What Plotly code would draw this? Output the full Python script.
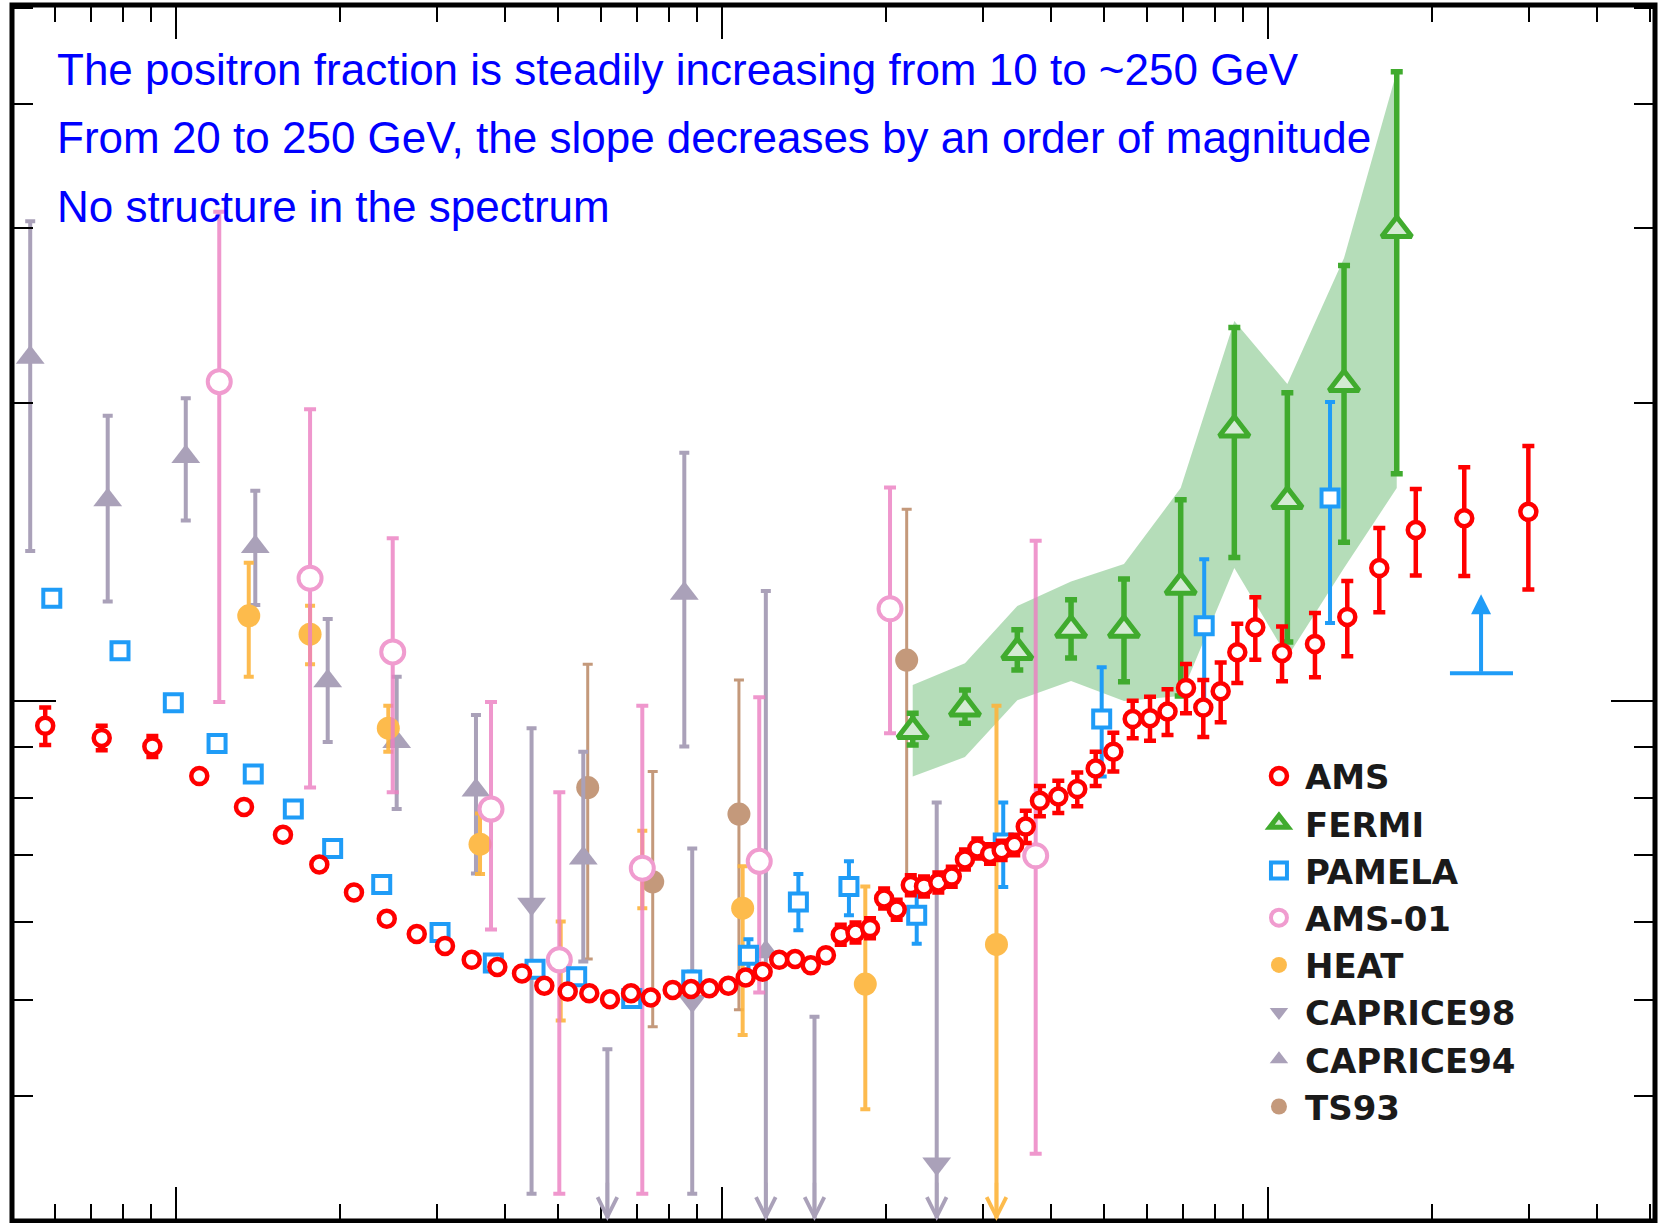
import numpy as np
import plotly.graph_objects as go

# ---------------- data: energy (GeV) and positron fraction ----------------
ams_E = [0.576, 0.731, 0.905, 1.103, 1.332, 1.570, 1.830, 2.118, 2.432, 2.760,
         3.109, 3.480, 3.877, 4.302, 4.727, 5.217, 5.714, 6.235, 6.813, 7.405,
         8.122, 8.775, 9.479, 10.27, 11.05, 11.87, 12.73, 13.61, 14.54, 15.50,
         16.50, 17.56, 18.67, 19.81, 20.89, 22.17, 23.44, 24.90, 26.35, 27.86,
         29.35, 30.96, 32.52, 34.30, 36.00, 38.22, 41.30, 44.74, 48.35, 52.09,
         56.52, 60.80, 65.46, 70.76, 76.12, 81.91, 87.86, 94.79, 106.1, 121.9,
         139.7, 159.9, 186.5, 228.8, 299.8]
ams_f = [0.0945, 0.0919, 0.0901, 0.0841, 0.0783, 0.0734, 0.0685, 0.0642, 0.0604, 0.0583,
         0.0567, 0.0549, 0.0540, 0.0532, 0.0517, 0.0510, 0.0508, 0.0501, 0.0508, 0.0503,
         0.0512, 0.0513, 0.0514, 0.0517, 0.0527, 0.0534, 0.0549, 0.0550, 0.0542, 0.0555,
         0.0582, 0.0585, 0.0591, 0.0633, 0.0617, 0.0653, 0.0651, 0.0657, 0.0666, 0.0693,
         0.0711, 0.0702, 0.0708, 0.0717, 0.0748, 0.0794, 0.0802, 0.0816, 0.0856, 0.0890,
         0.0960, 0.0962, 0.0977, 0.1032, 0.0986, 0.1024, 0.1121, 0.1188, 0.1119, 0.1143,
         0.1217, 0.1363, 0.1489, 0.1530, 0.1553]
ams_err = [0.0041, 0.0026, 0.0022, 0.0006, 0.0006, 0.0006, 0.0006, 0.0006, 0.0006, 0.0006,
           0.0005, 0.0005, 0.0005, 0.0005, 0.0005, 0.0005, 0.0005, 0.0005, 0.0005, 0.0005,
           0.0005, 0.0005, 0.0005, 0.0005, 0.0005, 0.0005, 0.0005, 0.0005, 0.0005, 0.0005,
           0.00135, 0.00136, 0.00137, 0.00147, 0.00143, 0.00152, 0.00151, 0.00152, 0.00155, 0.00161,
           0.00165, 0.0016, 0.0016, 0.0017, 0.0028, 0.0028, 0.0030, 0.0032, 0.0034, 0.0040,
           0.0042, 0.0049, 0.0052, 0.0059, 0.0065, 0.0071, 0.0077, 0.0086, 0.0071, 0.0085,
           0.0106, 0.0133, 0.0149, 0.0192, 0.0256]

fermi_E = [22.35, 27.86, 34.74, 43.58, 54.48, 69.20, 86.76, 108.5, 137.8, 172.1]
fermi_f = [0.0934, 0.0984, 0.1122, 0.1181, 0.1181, 0.1305, 0.1880, 0.1593, 0.2090, 0.2987]
fermi_hi = [0.0973, 0.1027, 0.1181, 0.1266, 0.1329, 0.1597, 0.2382, 0.2048, 0.2751, 0.4313]
fermi_lo = [0.0904, 0.0951, 0.1076, 0.1106, 0.1047, 0.1013, 0.1397, 0.1148, 0.1447, 0.1697]
fermi_band_hi = [0.1039, 0.1093, 0.1248, 0.1321, 0.1376, 0.1641, 0.2418, 0.2090, 0.2799, 0.4313]
fermi_band_lo = [0.0840, 0.0879, 0.1003, 0.1049, 0.1001, 0.1013, 0.1363, 0.1109, 0.1363, 0.1641]

pamela_E = [0.5922, 0.7896, 0.9887, 1.189, 1.385, 1.640, 1.936, 2.381, 3.045, 3.812,
            4.545, 5.418, 6.833, 8.801, 11.18, 13.80, 17.08, 22.73, 32.74, 49.59,
            76.41, 129.9]
pamela_f = [0.1271, 0.1125, 0.0997, 0.0907, 0.0845, 0.0779, 0.0711, 0.0654, 0.0585, 0.0545,
            0.0537, 0.0528, 0.0502, 0.0524, 0.0555, 0.0628, 0.0651, 0.0609, 0.0720, 0.0960,
            0.1192, 0.1604]
pamela_err_up = [0, 0, 0, 0, 0, 0, 0, 0, 0, 0,
                 0, 0, 0, 0.0010, 0.0021, 0.0042, 0.0039, 0.0032, 0.0071, 0.0123,
                 0.0199, 0.0400]
pamela_err_dn = [0, 0, 0, 0, 0, 0, 0, 0, 0, 0,
                 0, 0, 0, 0.0010, 0.0021, 0.0040, 0.0042, 0.0039, 0.0070, 0.0120,
                 0.0205, 0.0404]
pamela_limit_E = 245.6
pamela_limit_E_range = [215.4, 281.0]
pamela_limit_f = 0.1068
pamela_limit_arrow_to = 0.1283

ams01_E = [1.200, 1.760, 2.494, 3.775, 5.035, 7.145, 11.70, 20.31, 37.54]
ams01_f = [0.2101, 0.1331, 0.1122, 0.0779, 0.0549, 0.0679, 0.0690, 0.1240, 0.0699]
ams01_hi = [0.3117, 0.1971, 0.1461, 0.0999, 0.0810, 0.0990, 0.1010, 0.1643, 0.1452]
ams01_lo = [0.0999, 0.0819, 0.0810, 0.0589, 0.0319, 0.0319, 0.0509, 0.0929, 0.0350]

heat_E = [1.359, 1.760, 2.448, 3.604, 5.065, 7.145, 10.91, 18.30, 31.82]
heat_f = [0.1220, 0.1169, 0.0940, 0.0718, 0.0547, 0.0680, 0.0619, 0.0519, 0.0569]
heat_hi = [0.1380, 0.1249, 0.0990, 0.0771, 0.0600, 0.0741, 0.0682, 0.0651, 0.0990]
heat_lo = [0.1059, 0.1090, 0.0890, 0.0670, 0.0477, 0.0619, 0.0461, 0.0388, None]

cap98_E = [4.479, 8.820, 24.73]
cap98_f = [0.0625, 0.0499, 0.0342]
cap98_hi = [0.0940, 0.0711, 0.0791]
cap98_lo = [0.0319, 0.0319, None]
cap98_limit_E = [6.167, 14.77]
cap98_limit_hi = [0.0446, 0.0481]

cap94_E = [0.5407, 0.7497, 1.042, 1.397, 1.896, 2.536, 3.543, 5.571, 8.530, 12.03]
cap94_f = [0.2222, 0.1596, 0.1765, 0.1432, 0.1049, 0.0911, 0.0814, 0.0695, 0.1285, 0.0559]
cap94_hi = [0.3049, 0.1941, 0.2021, 0.1631, 0.1211, 0.1059, 0.0969, 0.0890, 0.1781, 0.1292]
cap94_lo = [0.1418, 0.1261, 0.1522, 0.1251, 0.0910, 0.0779, 0.0671, 0.0547, 0.0901, None]

ts93_E = [5.676, 7.466, 10.74, 21.79]
ts93_f = [0.0819, 0.0658, 0.0770, 0.1101]
ts93_hi = [0.1090, 0.0850, 0.1051, 0.1562]
ts93_lo = [0.0550, 0.0470, 0.0489, 0.0653]

notes = ["The positron fraction is steadily increasing from 10 to ~250 GeV",
         "From 20 to 250 GeV, the slope decreases by an order of magnitude",
         "No structure in the spectrum"]

# ---------------- styling ----------------
X_RANGE = [-0.3004, 2.7088]          # log10(GeV)
Y_RANGE = [-1.5237, -0.2979]         # log10(fraction)
Y_FLOOR = 10 ** Y_RANGE[0] * 0.7     # lower end for limits running off the axis

C_AMS = "#ff0000"
C_FERMI = "#40ab2e"
C_BAND = "rgba(60,165,70,0.38)"
C_PAM = "#1f9cf7"
C_AMS01 = "#f09ccf"
C_AMS01_BAR = "rgba(236,128,194,0.82)"
C_HEAT = "#fdbb4c"
C_HEAT_BAR = "rgba(253,180,60,0.9)"
C_CAP = "#aaa1b9"
C_TS = "#c4997b"
FONT = "Liberation Sans, Arial, Helvetica, sans-serif"
LEGEND_FONT = "DejaVu Sans, Liberation Sans, Arial, sans-serif"


def err_arrays(f, hi, lo):
    plus = [h - v for v, h in zip(f, hi)]
    minus = [v - (l if l is not None else Y_FLOOR) for v, l in zip(f, lo)]
    return plus, minus


fig = go.Figure()

# Fermi systematic band
fig.add_trace(go.Scatter(
    x=fermi_E + fermi_E[::-1], y=fermi_band_hi + fermi_band_lo[::-1],
    fill="toself", fillcolor=C_BAND, line=dict(width=0), mode="lines",
    hoverinfo="skip", showlegend=False))

# TS93
p, m = err_arrays(ts93_f, ts93_hi, ts93_lo)
fig.add_trace(go.Scatter(
    x=ts93_E, y=ts93_f, mode="markers", name="TS93", legendrank=8,
    marker=dict(symbol="circle", size=23, color=C_TS),
    error_y=dict(type="data", array=p, arrayminus=m, color=C_TS, thickness=3, width=5)))

# CAPRICE94
p, m = err_arrays(cap94_f, cap94_hi, cap94_lo)
fig.add_trace(go.Scatter(
    x=cap94_E, y=cap94_f, mode="markers", name="CAPRICE94", legendrank=7,
    marker=dict(symbol="triangle-up", size=25, color=C_CAP),
    error_y=dict(type="data", array=p, arrayminus=m, color=C_CAP, thickness=4, width=5)))

# CAPRICE98
p, m = err_arrays(cap98_f, cap98_hi, cap98_lo)
fig.add_trace(go.Scatter(
    x=cap98_E, y=cap98_f, mode="markers", name="CAPRICE98", legendrank=6,
    marker=dict(symbol="triangle-down", size=25, color=C_CAP),
    error_y=dict(type="data", array=p, arrayminus=m, color=C_CAP, thickness=4, width=5)))
fig.add_trace(go.Scatter(
    x=cap98_limit_E, y=cap98_limit_hi, mode="markers", showlegend=False,
    marker=dict(size=1, color="rgba(0,0,0,0)"),
    error_y=dict(type="data", array=[0] * len(cap98_limit_E),
                 arrayminus=[v - Y_FLOOR for v in cap98_limit_hi],
                 color=C_CAP, thickness=4, width=5)))

# HEAT
p, m = err_arrays(heat_f, heat_hi, heat_lo)
fig.add_trace(go.Scatter(
    x=heat_E, y=heat_f, mode="markers", name="HEAT", legendrank=5,
    marker=dict(symbol="circle", size=23, color=C_HEAT),
    error_y=dict(type="data", array=p, arrayminus=m, color=C_HEAT_BAR, thickness=4, width=5)))

# AMS-01
p, m = err_arrays(ams01_f, ams01_hi, ams01_lo)
fig.add_trace(go.Scatter(
    x=ams01_E, y=ams01_f, mode="markers", name="AMS-01", legendrank=4,
    marker=dict(symbol="circle", size=23, color="white", line=dict(color=C_AMS01, width=4)),
    error_y=dict(type="data", array=p, arrayminus=m, color=C_AMS01_BAR, thickness=4, width=6)))

# PAMELA
fig.add_trace(go.Scatter(
    x=pamela_E, y=pamela_f, mode="markers", name="PAMELA", legendrank=3,
    marker=dict(symbol="square", size=17, color="white", line=dict(color=C_PAM, width=4)),
    error_y=dict(type="data", array=pamela_err_up, arrayminus=pamela_err_dn,
                 color=C_PAM, thickness=4, width=5)))
fig.add_trace(go.Scatter(
    x=pamela_limit_E_range, y=[pamela_limit_f, pamela_limit_f], mode="lines",
    line=dict(color=C_PAM, width=4), showlegend=False, hoverinfo="skip"))

# FERMI
p, m = err_arrays(fermi_f, fermi_hi, fermi_lo)
fig.add_trace(go.Scatter(
    x=fermi_E, y=fermi_f, mode="markers", name="FERMI", legendrank=2,
    marker=dict(symbol="triangle-up", size=26, color="#d3ebd3", line=dict(color=C_FERMI, width=5)),
    error_y=dict(type="data", array=p, arrayminus=m, color=C_FERMI, thickness=5.5, width=6)))

# AMS
fig.add_trace(go.Scatter(
    x=ams_E, y=ams_f, mode="markers", name="AMS", legendrank=1,
    marker=dict(symbol="circle", size=16, color="white", line=dict(color=C_AMS, width=4.5)),
    error_y=dict(type="data", array=ams_err, color=C_AMS, thickness=4.5, width=6)))

# ---------------- arrows for limits running below the axis ----------------
annotations = []
limit_sets = [
    (heat_E, heat_lo, C_HEAT),
    (cap94_E, cap94_lo, C_CAP),
    (cap98_E, cap98_lo, C_CAP),
    (cap98_limit_E, [None] * len(cap98_limit_E), C_CAP),
]
for Es, los, col in limit_sets:
    for E, lo in zip(Es, los):
        if lo is None:
            annotations.append(dict(
                x=np.log10(E), y=Y_RANGE[0], ax=np.log10(E), ay=Y_RANGE[0] + 0.04,
                xref="x", yref="y", axref="x", ayref="y", text="", showarrow=True,
                arrowhead=5, arrowsize=1.1, arrowwidth=3.5, arrowcolor=col, standoff=0))

annotations.append(dict(
    x=np.log10(pamela_limit_E), y=np.log10(pamela_limit_arrow_to),
    ax=np.log10(pamela_limit_E), ay=np.log10(pamela_limit_f),
    xref="x", yref="y", axref="x", ayref="y", text="", showarrow=True,
    arrowhead=2, arrowsize=1, arrowwidth=4, arrowcolor=C_PAM, standoff=0))

note_y = [0.9473, 0.8914, 0.8347]
for txt, yy in zip(notes, note_y):
    annotations.append(dict(
        x=0.0262, y=yy, xref="paper", yref="paper", xanchor="left", yanchor="middle",
        text=txt, showarrow=False, font=dict(family=FONT, size=44, color="#0000ff")))

axis_common = dict(type="log", showticklabels=False, showgrid=False, zeroline=False,
                   showline=False, ticks="inside", tickwidth=2, tickcolor="black",
                   mirror="ticks", dtick=1)

fig.update_layout(
    width=1665, height=1223,
    margin=dict(l=12, r=10, t=5, b=2, pad=0),
    paper_bgcolor="white", plot_bgcolor="white",
    xaxis=dict(range=X_RANGE, ticklen=34,
               minor=dict(ticks="inside", ticklen=17, tickwidth=2, tickcolor="black",
                          dtick="D1", showgrid=False),
               **axis_common),
    yaxis=dict(range=Y_RANGE, ticklen=44,
               minor=dict(ticks="inside", ticklen=21, tickwidth=2, tickcolor="black",
                          dtick="D1", showgrid=False),
               **axis_common),
    legend=dict(x=0.7553, y=0.3894, xanchor="left", yanchor="top",
                bgcolor="rgba(0,0,0,0)", itemsizing="trace", itemwidth=42,
                font=dict(family=LEGEND_FONT, size=34, color="#1a1a1a", weight="bold")),
    annotations=annotations,
    shapes=[dict(type="rect", xref="paper", yref="paper", x0=0, x1=1, y0=0, y1=1,
                 line=dict(color="black", width=5), layer="above")],
    showlegend=True,
)

fig.write_html("out.html",
               config={"displayModeBar": False},
               post_script="document.body.style.margin='0px';document.body.style.padding='0px';")
